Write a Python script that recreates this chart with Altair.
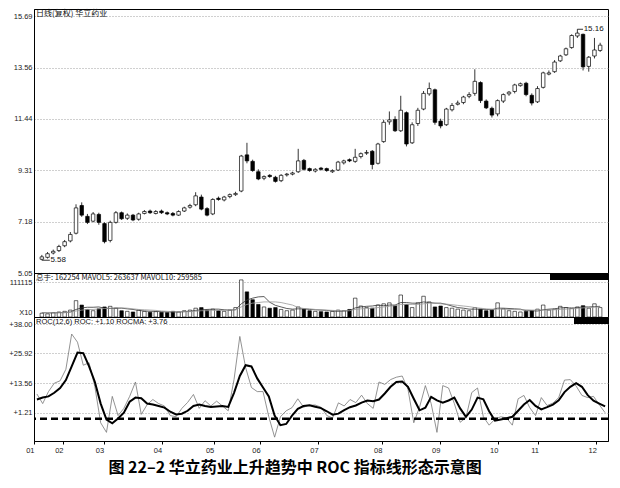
import altair as alt
import pandas as pd

# ---------------- data ----------------
closes = [5.72, 5.85, 5.95, 6.15, 6.35, 6.65, 7.75, 7.45, 7.15, 7.50,
          7.15, 6.35, 7.15, 7.55, 7.30, 7.45, 7.25, 7.50, 7.60, 7.55,
          7.60, 7.55, 7.50, 7.45, 7.60, 7.75, 7.85, 8.25, 7.70, 7.45,
          8.10, 8.10, 8.20, 8.30, 8.35, 9.90, 9.70, 9.30, 8.95, 9.05,
          9.05, 8.85, 9.10, 9.15, 9.20, 9.70, 9.35, 9.30, 9.35, 9.35,
          9.30, 9.30, 9.65, 9.70, 9.70, 9.85, 10.00, 10.05, 9.55, 10.40,
          11.30, 11.40, 10.95, 11.80, 10.40, 11.20, 11.80, 12.50, 12.70, 11.30,
          11.15, 11.85, 12.00, 12.10, 12.35, 12.45, 13.00, 12.20, 11.90, 11.60,
          12.20, 12.45, 12.55, 12.85, 12.90, 12.45, 12.10, 12.70, 13.35, 13.35,
          13.80, 14.05, 14.35, 14.90, 15.00, 13.60, 14.00, 14.30, 14.50]
opens = [5.62, 5.70, 5.88, 5.98, 6.18, 6.38, 6.70, 7.85, 7.40, 7.20,
         7.48, 7.10, 6.40, 7.15, 7.55, 7.32, 7.45, 7.28, 7.52, 7.62,
         7.52, 7.62, 7.55, 7.52, 7.45, 7.62, 7.78, 7.88, 8.20, 7.72,
         7.50, 8.15, 8.08, 8.22, 8.30, 8.45, 9.95, 9.68, 9.25, 8.98,
         9.10, 9.02, 8.88, 9.12, 9.15, 9.25, 9.72, 9.38, 9.28, 9.40,
         9.38, 9.25, 9.32, 9.62, 9.75, 9.68, 9.88, 10.02, 10.10, 9.60,
         10.50, 11.32, 11.42, 10.95, 11.70, 10.45, 11.25, 11.85, 12.48, 12.65,
         11.35, 11.20, 11.82, 12.05, 12.12, 12.38, 12.50, 12.95, 12.18, 11.88,
         11.65, 12.18, 12.48, 12.58, 12.82, 12.92, 12.42, 12.15, 12.75, 13.30,
         13.40, 13.85, 14.10, 14.40, 14.88, 14.95, 13.62, 14.05, 14.28]
highs = [5.80, 5.92, 6.02, 6.22, 6.42, 6.75, 7.90, 7.98, 7.50, 7.58,
         7.55, 7.15, 7.22, 7.62, 7.60, 7.52, 7.50, 7.55, 7.66, 7.68,
         7.66, 7.68, 7.60, 7.58, 7.65, 7.80, 7.92, 8.40, 8.30, 7.78,
         8.15, 8.22, 8.25, 8.35, 8.42, 9.95, 10.45, 9.75, 9.35, 9.10,
         9.15, 9.08, 9.15, 9.20, 9.25, 10.20, 9.78, 9.42, 9.40, 9.45,
         9.42, 9.35, 9.70, 9.75, 9.80, 10.20, 10.05, 10.15, 10.15, 10.45,
         11.40, 11.75, 11.55, 12.40, 11.75, 11.30, 11.90, 12.60, 12.95, 12.70,
         11.45, 11.90, 12.10, 12.20, 12.40, 12.55, 13.50, 13.00, 12.25, 11.95,
         12.25, 12.50, 12.60, 12.90, 12.95, 12.98, 12.50, 12.80, 13.40, 13.45,
         13.88, 14.10, 14.40, 14.95, 15.16, 14.98, 14.05, 14.80, 14.60]
lows = [5.58, 5.65, 5.82, 5.92, 6.12, 6.32, 6.65, 7.38, 7.08, 7.15,
        7.05, 6.28, 6.32, 7.10, 7.25, 7.25, 7.20, 7.22, 7.48, 7.50,
        7.48, 7.50, 7.45, 7.40, 7.42, 7.58, 7.72, 7.82, 7.65, 7.40,
        7.45, 8.05, 8.02, 8.15, 8.25, 8.40, 9.60, 9.25, 8.90, 8.90,
        9.00, 8.80, 8.82, 9.05, 9.10, 9.20, 9.30, 9.25, 9.22, 9.30,
        9.25, 9.20, 9.28, 9.55, 9.65, 9.62, 9.80, 9.95, 9.35, 9.55,
        10.45, 11.20, 10.90, 10.90, 10.30, 10.40, 11.15, 11.80, 12.40, 11.20,
        11.05, 11.15, 11.75, 12.00, 12.05, 12.30, 12.40, 12.10, 11.85, 11.50,
        11.55, 12.10, 12.40, 12.50, 12.78, 12.38, 12.00, 12.10, 12.70, 13.25,
        13.35, 13.80, 14.05, 14.35, 14.80, 13.45, 13.40, 13.95, 14.22]
volumes = [12000, 10000, 14000, 16000, 18000, 22000, 52000, 38000, 24000, 20000,
           26000, 32000, 34000, 28000, 20000, 18000, 16000, 22000, 18000, 15000,
           17000, 15000, 14000, 18000, 16000, 20000, 22000, 28000, 30000, 22000,
           25000, 20000, 18000, 22000, 30000, 118000, 80000, 55000, 40000, 32000,
           28000, 30000, 24000, 20000, 22000, 32000, 25000, 20000, 18000, 17000,
           16000, 18000, 22000, 20000, 24000, 60000, 35000, 30000, 28000, 38000,
           42000, 45000, 36000, 70000, 40000, 30000, 45000, 66000, 48000, 32000,
           35000, 30000, 28000, 25000, 22000, 20000, 30000, 25000, 20000, 22000,
           45000, 26000, 20000, 18000, 16000, 18000, 20000, 25000, 38000, 22000,
           25000, 34000, 30000, 28000, 32000, 36000, 28000, 42000, 30000]
mavol5 = [14000, 13000, 13000, 14000, 14000, 16000, 24000, 29000, 31000, 31000,
          32000, 28000, 27000, 28000, 28000, 26000, 24000, 21000, 19000, 18000,
          18000, 17000, 16000, 16000, 16000, 17000, 18000, 21000, 23000, 24000,
          25000, 25000, 23000, 22000, 23000, 42000, 54000, 60000, 64000, 65000,
          47000, 37000, 32000, 27000, 25000, 26000, 26000, 24000, 23000, 22000,
          21000, 19000, 18000, 19000, 20000, 29000, 32000, 34000, 35000, 38000,
          36000, 38000, 38000, 46000, 46000, 44000, 44000, 48000, 46000, 44000,
          44000, 40000, 35000, 30000, 28000, 25000, 25000, 25000, 24000, 23000,
          28000, 28000, 27000, 26000, 25000, 20000, 20000, 19000, 23000, 25000,
          26000, 29000, 30000, 28000, 30000, 32000, 32000, 33000, 34000]
mavol10 = [14000, 14000, 13500, 13500, 14000, 15000, 19000, 22000, 24000, 24000,
           26000, 27000, 28000, 29000, 29000, 28000, 26000, 24000, 23000, 22000,
           21000, 19000, 18000, 17000, 16500, 17000, 17000, 18000, 20000, 20000,
           21000, 21000, 21000, 22000, 23000, 32000, 40000, 44000, 46000, 48000,
           48000, 48000, 46000, 42000, 38000, 30000, 27000, 26000, 24000, 23000,
           22000, 21000, 20000, 20000, 20000, 24000, 26000, 27000, 28000, 30000,
           32000, 34000, 36000, 40000, 40000, 40000, 40000, 42000, 44000, 44000,
           42000, 41000, 39000, 37000, 35000, 33000, 30000, 28000, 26000, 25000,
           25000, 25000, 24000, 24000, 23000, 23000, 22000, 22000, 22000, 22000,
           23000, 24000, 25000, 26000, 27000, 29000, 30000, 31000, 32000]
roc = [9.0, 5.0, 10.0, 13.5, 14.5, 19.3, 34.0, 30.6, 21.0, 22.0,
       12.0, -3.0, -7.0, 8.0, 0.0, 3.0, 8.0, 14.0, 0.5, 4.5,
       6.7, 5.0, 4.0, 0.0, -0.5, 3.0, 5.5, 8.8, 3.0, 6.2,
       4.0, 6.0, 4.0, 2.0, 15.0, 33.0, 20.0, 11.7, 10.0, 10.0,
       -0.5, -9.0, -0.5, 2.0, 3.3, 7.0, 3.5, 4.3, 4.4, 3.5,
       0.0, -1.0, 5.3, 4.0, 6.7, 5.4, 8.5, 5.0, 3.0, 14.0,
       13.0, 15.0, 16.0, 16.5, 11.0, -3.0, 3.5, 12.5, 5.0, -7.0,
       12.5, 11.5, 5.0, -2.8, -0.9, 9.6, 11.5, -0.5, -4.0, -1.5,
       -0.5, -1.0, -4.0, 7.0, 8.4, 3.3, 0.0, 7.5, 4.2, 5.2,
       7.5, 14.8, 15.0, 12.3, 8.4, 7.5, 8.0, 4.5, 1.2]
rocma = [6.7, 7.5, 8.0, 9.5, 11.5, 14.8, 20.5, 26.3, 26.0, 20.5,
         14.0, 5.0, -1.7, -3.2, -1.2, 1.2, 5.8, 7.5, 7.2, 5.0,
         4.6, 4.0, 3.3, 1.6, 0.5, 0.8, 2.0, 4.0, 4.6, 4.0,
         3.6, 3.8, 4.0, 3.6, 9.5, 16.5, 21.0, 20.5, 15.5, 11.7,
         8.0, 0.0, -4.0, -3.5, 0.0, 2.8, 4.0, 4.3, 3.7, 3.1,
         1.8, 0.4, 0.8, 2.3, 3.5, 4.2, 5.4, 6.3, 6.0, 6.7,
         9.2, 12.0, 14.0, 14.2, 12.0, 7.0, 2.2, 3.3, 7.8, 6.3,
         5.4, 6.3, 7.5, 3.0, -0.5, 2.5, 7.5, 6.8, 1.8, -2.1,
         -1.6, -1.1, -0.5, 2.0, 4.6, 6.5, 4.0, 2.6, 3.5, 4.6,
         6.4, 9.8, 12.0, 13.5, 12.0, 8.5, 6.2, 5.0, 3.8]

month_labels = ["01", "02", "03", "04", "05", "06", "07", "08", "09", "10", "11", "12"]
month_pos = [-0.5, 4.5, 11.5, 21.5, 30.5, 38.5, 48.5, 59.5, 69.5, 79.5, 86.5, 96.5]
price_ticks = [5.05, 7.18, 9.31, 11.44, 13.56, 15.69]
vol_ticks = [0, 55558, 111115]
roc_ticks = [1.21, 13.56, 25.92, 38.00]
roc_ref = -1.3

price_title = "日线(复权)  华立药业"
vol_header = "总手: 162254  MAVOL5: 263637  MAVOL10: 259585"
roc_header = "ROC(12,6)  ROC: +1.10  ROCMA: +3.76"
caption = "图 22–2     华立药业上升趋势中 ROC 指标线形态示意图"

# ---------------- build ----------------
n = len(closes)
df = pd.DataFrame({"i": list(range(n)), "open": opens, "high": highs, "low": lows,
                   "close": closes, "volume": volumes, "mavol5": mavol5,
                   "mavol10": mavol10, "roc": roc, "rocma": rocma})
df["dir"] = ["up" if c >= o else "down" for o, c in zip(opens, closes)]

W = 574
FONT = "Liberation Sans"
CJK = "Noto Sans CJK SC"

xscale = alt.Scale(domain=[-0.5, n - 0.5], nice=False, zero=False)
fill_scale = alt.Scale(domain=["up", "down"], range=["white", "black"])


def yaxis(values, fmt=None, expr=None, offset=None):
    kw = dict(values=values, labelFontSize=7.5, labelFont=FONT, labelColor="#222",
              ticks=False, labelPadding=2, grid=True, gridDash=[1, 2],
              gridColor="#888", gridWidth=0.8, domainColor="black",
              minExtent=25, maxExtent=25)
    if fmt:
        kw["format"] = fmt
    if expr:
        kw["labelExpr"] = expr
    if offset:
        kw["labelOffset"] = offset
    return alt.Axis(**kw)


def header(text, font, size):
    return alt.Chart(pd.DataFrame({"t": [text]})).mark_text(
        align="left", baseline="top", fontSize=size, font=font, color="#111"
    ).encode(text="t:N", x=alt.value(2), y=alt.value(1))


def black_box(w, h):
    return alt.Chart(pd.DataFrame({"a": [0]})).mark_rect(color="black").encode(
        x=alt.value(W - w), x2=alt.value(W), y=alt.value(0), y2=alt.value(h))


# price panel
pbase = alt.Chart(df).encode(x=alt.X("i:Q", scale=xscale, axis=None))
wick = pbase.mark_rule(color="black", strokeWidth=0.8).encode(
    y=alt.Y("low:Q", scale=alt.Scale(domain=[5.05, 16.0], nice=False, zero=False),
            axis=yaxis(price_ticks, ".2f"), title=None),
    y2="high:Q")
body = pbase.mark_bar(size=3.5, stroke="black", strokeWidth=0.7).encode(
    y=alt.Y("open:Q", title=None), y2="close:Q",
    fill=alt.Fill("dir:N", scale=fill_scale, legend=None))

lo_i = lows.index(min(lows))
hi_i = highs.index(max(highs))
ann = pd.DataFrame({"x": [lo_i, hi_i], "x2": [lo_i + 1.4, hi_i + 1.0],
                    "xt": [lo_i + 1.5, hi_i + 1.1],
                    "y": [min(lows), max(highs)],
                    "label": [f"{min(lows):.2f}", f"{max(highs):.2f}"]})
ann_rule = alt.Chart(ann).mark_rule(color="black", strokeWidth=0.8).encode(
    x=alt.X("x:Q", scale=xscale, axis=None), x2="x2:Q", y=alt.Y("y:Q", title=None))
ann_text = alt.Chart(ann).mark_text(align="left", baseline="middle", fontSize=8,
                                    font=FONT, color="#111").encode(
    x=alt.X("xt:Q", scale=xscale, axis=None), y=alt.Y("y:Q", title=None), text="label:N")

price = alt.layer(wick, body, ann_rule, ann_text, header(price_title, CJK, 8)).properties(
    width=W, height=264)

# volume panel
vscale = alt.Scale(domain=[0, 140000], nice=False, zero=True)
vbase = alt.Chart(df).encode(x=alt.X("i:Q", scale=xscale, axis=None))
vbars = vbase.mark_bar(size=3.5, stroke="black", strokeWidth=0.6).encode(
    y=alt.Y("volume:Q", scale=vscale, title=None,
            axis=yaxis(vol_ticks,
                       expr="datum.value == 0 ? 'X10' : format(datum.value, 'd')",
                       offset={"condition": {"test": "datum.value == 0", "value": -5},
                               "value": 0})),
    fill=alt.Fill("dir:N", scale=fill_scale, legend=None))
vma5 = vbase.mark_line(color="#333", strokeWidth=0.8).encode(y=alt.Y("mavol5:Q", title=None))
vma10 = vbase.mark_line(color="#999", strokeWidth=0.8).encode(y=alt.Y("mavol10:Q", title=None))
volume = alt.layer(vbars, vma5, vma10, header(vol_header, CJK, 7.5), black_box(58, 7)).properties(
    width=W, height=44)

# ROC panel
rscale = alt.Scale(domain=[-10.6, 41.1], nice=False, zero=False)
xexpr = f"{month_labels}[indexof({month_pos}, datum.value)]"
rbase = alt.Chart(df).encode(x=alt.X(
    "i:Q", scale=xscale, title=None,
    axis=alt.Axis(values=month_pos, labelExpr=xexpr, labelAlign="right", labelFontSize=7.5,
                  labelFont=FONT, labelColor="#222", tickSize=3, tickColor="black",
                  domainColor="black", grid=False, labelPadding=2)))
rline = rbase.mark_line(color="#777", strokeWidth=0.8).encode(
    y=alt.Y("roc:Q", scale=rscale, axis=yaxis(roc_ticks, "+.2f"), title=None))
rma = rbase.mark_line(color="black", strokeWidth=2).encode(y=alt.Y("rocma:Q", title=None))
rref = alt.Chart(pd.DataFrame({"y": [roc_ref]})).mark_rule(
    color="black", strokeWidth=2.5, strokeDash=[7, 4]).encode(y=alt.Y("y:Q", title=None))
rocc = alt.layer(rline, rma, rref, header(roc_header, FONT, 7.5), black_box(34, 7)).properties(
    width=W, height=124)

chart = alt.vconcat(price, volume, rocc, spacing=0, bounds="flush").properties(
    title=alt.TitleParams(text=caption, orient="bottom", anchor="middle", fontSize=16,
                          fontWeight="bold", font=CJK, color="black", offset=6, dx=-14),
    padding={"left": 0, "top": 0, "right": 0, "bottom": 5}
).configure(background="white").configure_view(stroke="black", strokeWidth=1)

chart.save("out.html", embed_options={"renderer": "svg", "actions": False})
